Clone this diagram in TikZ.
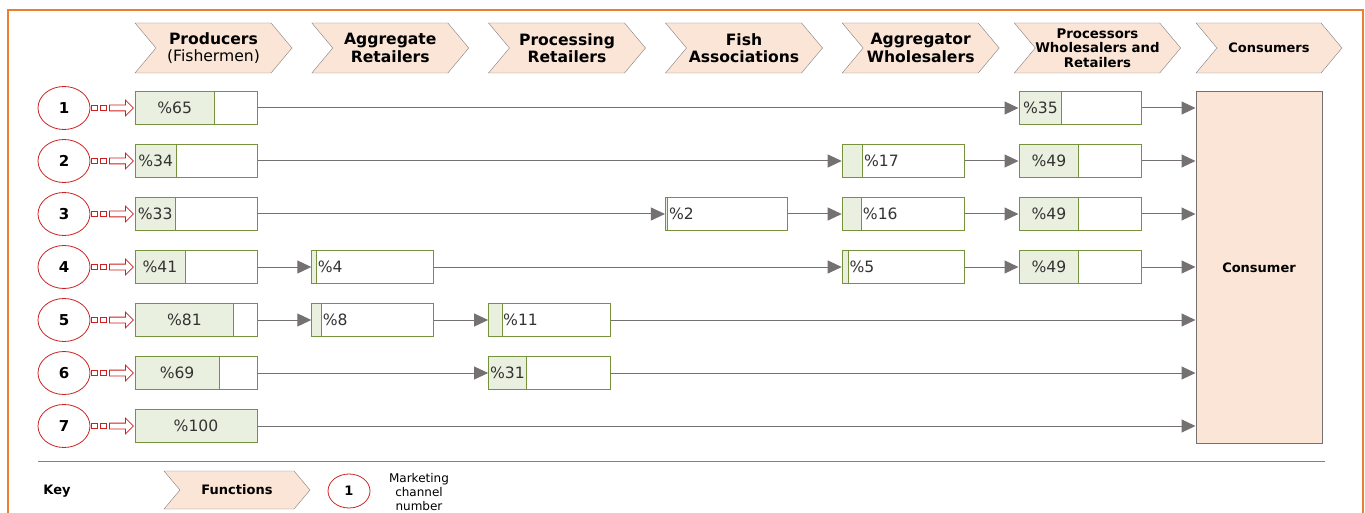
\documentclass[tikz,border=0pt]{standalone}
\usepackage{fontspec}
\setmainfont{DejaVu Sans}
\usetikzlibrary{arrows.meta,positioning,shapes.geometric,shapes.symbols,shapes.arrows}
\definecolor{frameorange}{RGB}{237,125,49}
\definecolor{peach}{RGB}{251,229,214}
\definecolor{edgegray}{RGB}{128,128,128}
\definecolor{flowgray}{RGB}{118,113,113}
\definecolor{cellgreen}{RGB}{233,240,223}
\definecolor{celledge}{RGB}{118,146,60}
\definecolor{chanred}{RGB}{204,32,32}

\begin{document}
\begin{tikzpicture}[x=1pt,y=-1pt,
  func/.style={shape=signal,signal from=west,signal to=east,signal pointer angle=100,
               draw=edgegray,fill=peach,minimum width=157pt,minimum height=50pt,inner sep=0pt,
               align=center,font=\fontsize{15.6}{17.5}\selectfont\bfseries,text=black},
  cell/.style={draw=celledge,line width=1pt,minimum width=122pt,minimum height=33pt,inner sep=0pt},
  pct/.style={font=\fontsize{15.6}{18}\selectfont,text=black!80,inner sep=1pt},
  chan/.style={ellipse,draw=chanred,line width=0.8pt,minimum width=52pt,minimum height=43pt,
               inner sep=0pt,font=\fontsize{15}{18}\selectfont\bfseries},
  dot/.style={draw=chanred,line width=0.8pt,fill=white,minimum width=6pt,minimum height=5pt,inner sep=0pt},
  feed/.style={single arrow,draw=chanred,line width=0.8pt,fill=white,minimum height=24pt,inner xsep=0pt,
               inner ysep=2.5pt,single arrow head extend=5pt,single arrow tip angle=90},
  flow/.style={-{Triangle[length=14pt,width=13pt]},draw=flowgray,line width=1pt}
]
  \useasboundingbox (0,0) rectangle (1365,513);
  \draw[frameorange,line width=2pt] (8,10) rectangle (1362.5,540);

  % Functions
  \node[func] (h1) at (213.5,48) {Producers\\{\mdseries (Fishermen)}};
  \node[func] (h2) at (390.3,48) {Aggregate\\Retailers};
  \node[func] (h3) at (567,48) {Processing\\Retailers};
  \node[func] (h4) at (744,48) {Fish\\Associations};
  \node[func] (h5) at (920.7,48) {Aggregator\\Wholesalers};
  \node[func,font=\fontsize{13.3}{14.5}\selectfont\bfseries] (h6) at (1097.5,48)
    {Processors\\Wholesalers and\\Retailers};
  \node[func,minimum width=146pt,font=\fontsize{13}{15}\selectfont\bfseries] (h7) at (1269,48) {Consumers};

  % Channels
  \foreach \r in {1,...,7}{
    \pgfmathsetmacro\ry{108+(\r-1)*53}
    \node[chan] (n\r) at (64,\ry) {\r};
    \node[dot,right=0.5pt of n\r] (sa\r) {};
    \node[dot,right=2pt of sa\r] (sb\r) {};
    \node[feed,right=2.5pt of sb\r] (ar\r) {};
  }

  % Shares
  \foreach \r/\c/\f in {1/1/65,1/6/35,2/1/34,2/5/17,2/6/49,3/1/33,3/4/2,3/5/16,3/6/49,
                        4/1/41,4/2/4,4/5/5,4/6/49,5/1/81,5/2/8,5/3/11,6/1/69,6/3/31,7/1/100}{
    \pgfmathsetmacro\xl{135+(\c-1)*176.8}
    \pgfmathsetmacro\ry{108+(\r-1)*53}
    \pgfmathsetmacro\xg{\xl+1.22*\f}
    \fill[cellgreen] (\xl,\ry-16.5) rectangle (\xg,\ry+16.5);
    \node[cell] (b\r\c) at (\xl+61,\ry) {};
    \draw[celledge,line width=1pt] (\xg,\ry-16.5) -- (\xg,\ry+16.5);
    \ifnum\f<30
      \node[pct,anchor=west] (t\r\c) at (\xg,\ry) {\%\f};
    \else
      \node[pct] (t\r\c) at ({(\xl+\xg)/2},\ry) {\%\f};
    \fi
  }

  \node[draw=flowgray,line width=1pt,fill=peach,minimum width=126pt,minimum height=351pt,
        font=\fontsize{13}{15}\selectfont\bfseries] (cons) at (1259,267.5) {Consumer};

  % Flows
  \foreach \a/\b in {11/16,21/25,25/26,31/34,34/35,35/36,41/42,42/45,45/46,51/52,52/53,61/63}
    \draw[flow] (b\a.east) -- (b\b.west);
  \foreach \a in {16,26,36,46,53,63,71}
    \draw[flow] (b\a.east) -- (b\a.east -| cons.west);

  % Key
  \draw[edgegray,line width=1pt] (38,461) -- (1325,461);
  \node[font=\fontsize{13}{15}\selectfont\bfseries] (key) at (57,491) {Key};
  \node[func,minimum width=146pt,minimum height=38pt,font=\fontsize{13}{15}\selectfont\bfseries]
    (kf) at (237,490) {Functions};
  \node[chan,minimum width=42pt,minimum height=34pt,font=\fontsize{13}{15}\selectfont\bfseries]
    (kc) at (349,491) {1};
  \node[font=\fontsize{12}{14}\selectfont,align=center] (kt) at (419,492) {Marketing\\channel\\number};
\end{tikzpicture}
\end{document}
